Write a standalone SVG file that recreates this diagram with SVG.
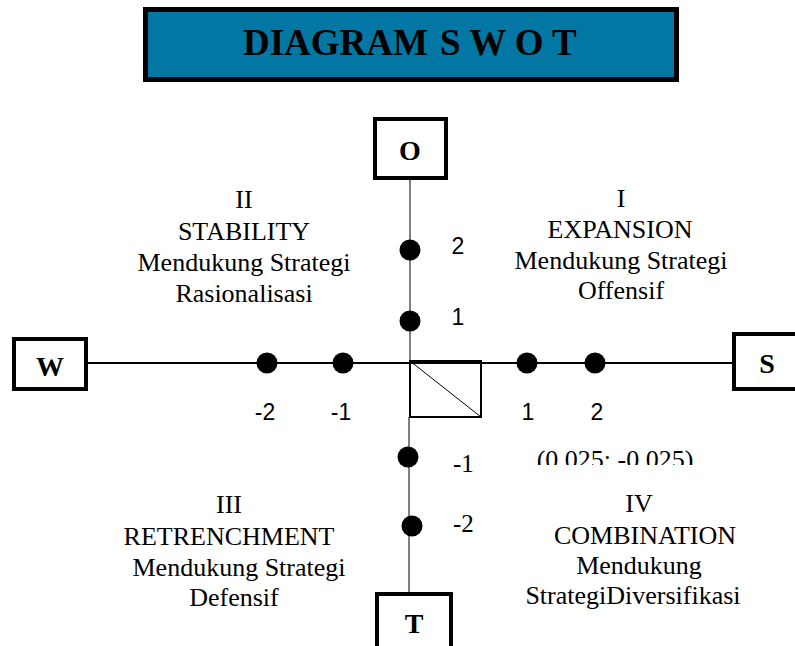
<svg xmlns="http://www.w3.org/2000/svg" width="795" height="646" viewBox="0 0 795 646">
<style>
.box{fill:#fff;stroke:#000;stroke-width:4}
.ser{font-family:'Liberation Serif','Times New Roman',Times,'DejaVu Serif',serif}
.lbl{font-weight:bold;font-size:28px;text-anchor:middle;fill:#000}
.q{font-size:26px;text-anchor:middle;fill:#000}
.n{font-family:'Liberation Sans',Arial,sans-serif;font-size:23px;text-anchor:middle;fill:#000}
.ns{font-size:25px;fill:#000}
.dot{fill:#000}
</style>
<defs>
<clipPath id="clipc"><rect x="520" y="440" width="200" height="25"/></clipPath>
</defs>
<g id="title">
<rect x="145.5" y="9.5" width="531" height="70" fill="#0277A3" stroke="#000" stroke-width="5"/>
<text class="ser" x="243" y="55" font-weight="bold" font-size="37" fill="#000">DIAGRAM<tspan x="440">S W O T</tspan></text>
</g>
<g id="connectors">
<line x1="88" y1="363" x2="732" y2="363" stroke="#000" stroke-width="2"/>
<line x1="410" y1="180" x2="410" y2="363" stroke="#555" stroke-width="1.5"/>
<line x1="409" y1="417" x2="409" y2="592" stroke="#555" stroke-width="1.5"/>
</g>
<g id="origin">
<rect x="410" y="361" width="71" height="56" fill="none" stroke="#000" stroke-width="2"/>
<line x1="410" y1="361" x2="481" y2="417" stroke="#000" stroke-width="1"/>
</g>
<g id="node-O">
<rect class="box" x="375" y="119" width="71" height="59"/>
<text class="ser lbl" x="410" y="160">O</text>
</g>
<g id="node-T">
<rect class="box" x="377" y="594" width="74" height="56"/>
<text class="ser lbl" x="414" y="633">T</text>
</g>
<g id="node-W">
<rect class="box" x="14" y="339" width="72" height="50"/>
<text class="ser lbl" x="50" y="376">W</text>
</g>
<g id="node-S">
<rect class="box" x="734" y="334" width="66" height="55"/>
<text class="ser lbl" x="767" y="373">S</text>
</g>
<g id="points">
<circle class="dot" cx="410" cy="250" r="10.5"/>
<circle class="dot" cx="410" cy="321" r="10.5"/>
<circle class="dot" cx="267" cy="363" r="10.5"/>
<circle class="dot" cx="343" cy="363" r="10.5"/>
<circle class="dot" cx="527" cy="363" r="10.5"/>
<circle class="dot" cx="595" cy="363" r="10.5"/>
<circle class="dot" cx="408" cy="457" r="10.5"/>
<circle class="dot" cx="412" cy="526" r="10.5"/>
<text class="n" x="458" y="254">2</text>
<text class="n" x="458" y="325">1</text>
<text class="n" x="265" y="420">-2</text>
<text class="n" x="341" y="420">-1</text>
<text class="n" x="528" y="420">1</text>
<text class="n" x="597" y="420">2</text>
<text class="ser ns" x="453" y="472">-1</text>
<text class="ser ns" x="453" y="532">-2</text>
<text class="ser q" x="615" y="468" clip-path="url(#clipc)">(0.025: -0.025)</text>
</g>
<g id="quadrant-I">
<text class="ser q" x="621" y="207">I</text>
<text class="ser q" x="620" y="238">EXPANSION</text>
<text class="ser q" x="621" y="269">Mendukung Strategi</text>
<text class="ser q" x="621" y="299">Offensif</text>
</g>
<g id="quadrant-II">
<text class="ser q" x="244" y="208">II</text>
<text class="ser q" x="244" y="240">STABILITY</text>
<text class="ser q" x="244" y="271">Mendukung Strategi</text>
<text class="ser q" x="244" y="302">Rasionalisasi</text>
</g>
<g id="quadrant-III">
<text class="ser q" x="229" y="513">III</text>
<text class="ser q" x="229" y="545">RETRENCHMENT</text>
<text class="ser q" x="239" y="576">Mendukung Strategi</text>
<text class="ser q" x="234" y="606">Defensif</text>
</g>
<g id="quadrant-IV">
<text class="ser q" x="639" y="512">IV</text>
<text class="ser q" x="645" y="544">COMBINATION</text>
<text class="ser q" x="639" y="574">Mendukung</text>
<text class="ser q" x="633" y="604">StrategiDiversifikasi</text>
</g>
</svg>
